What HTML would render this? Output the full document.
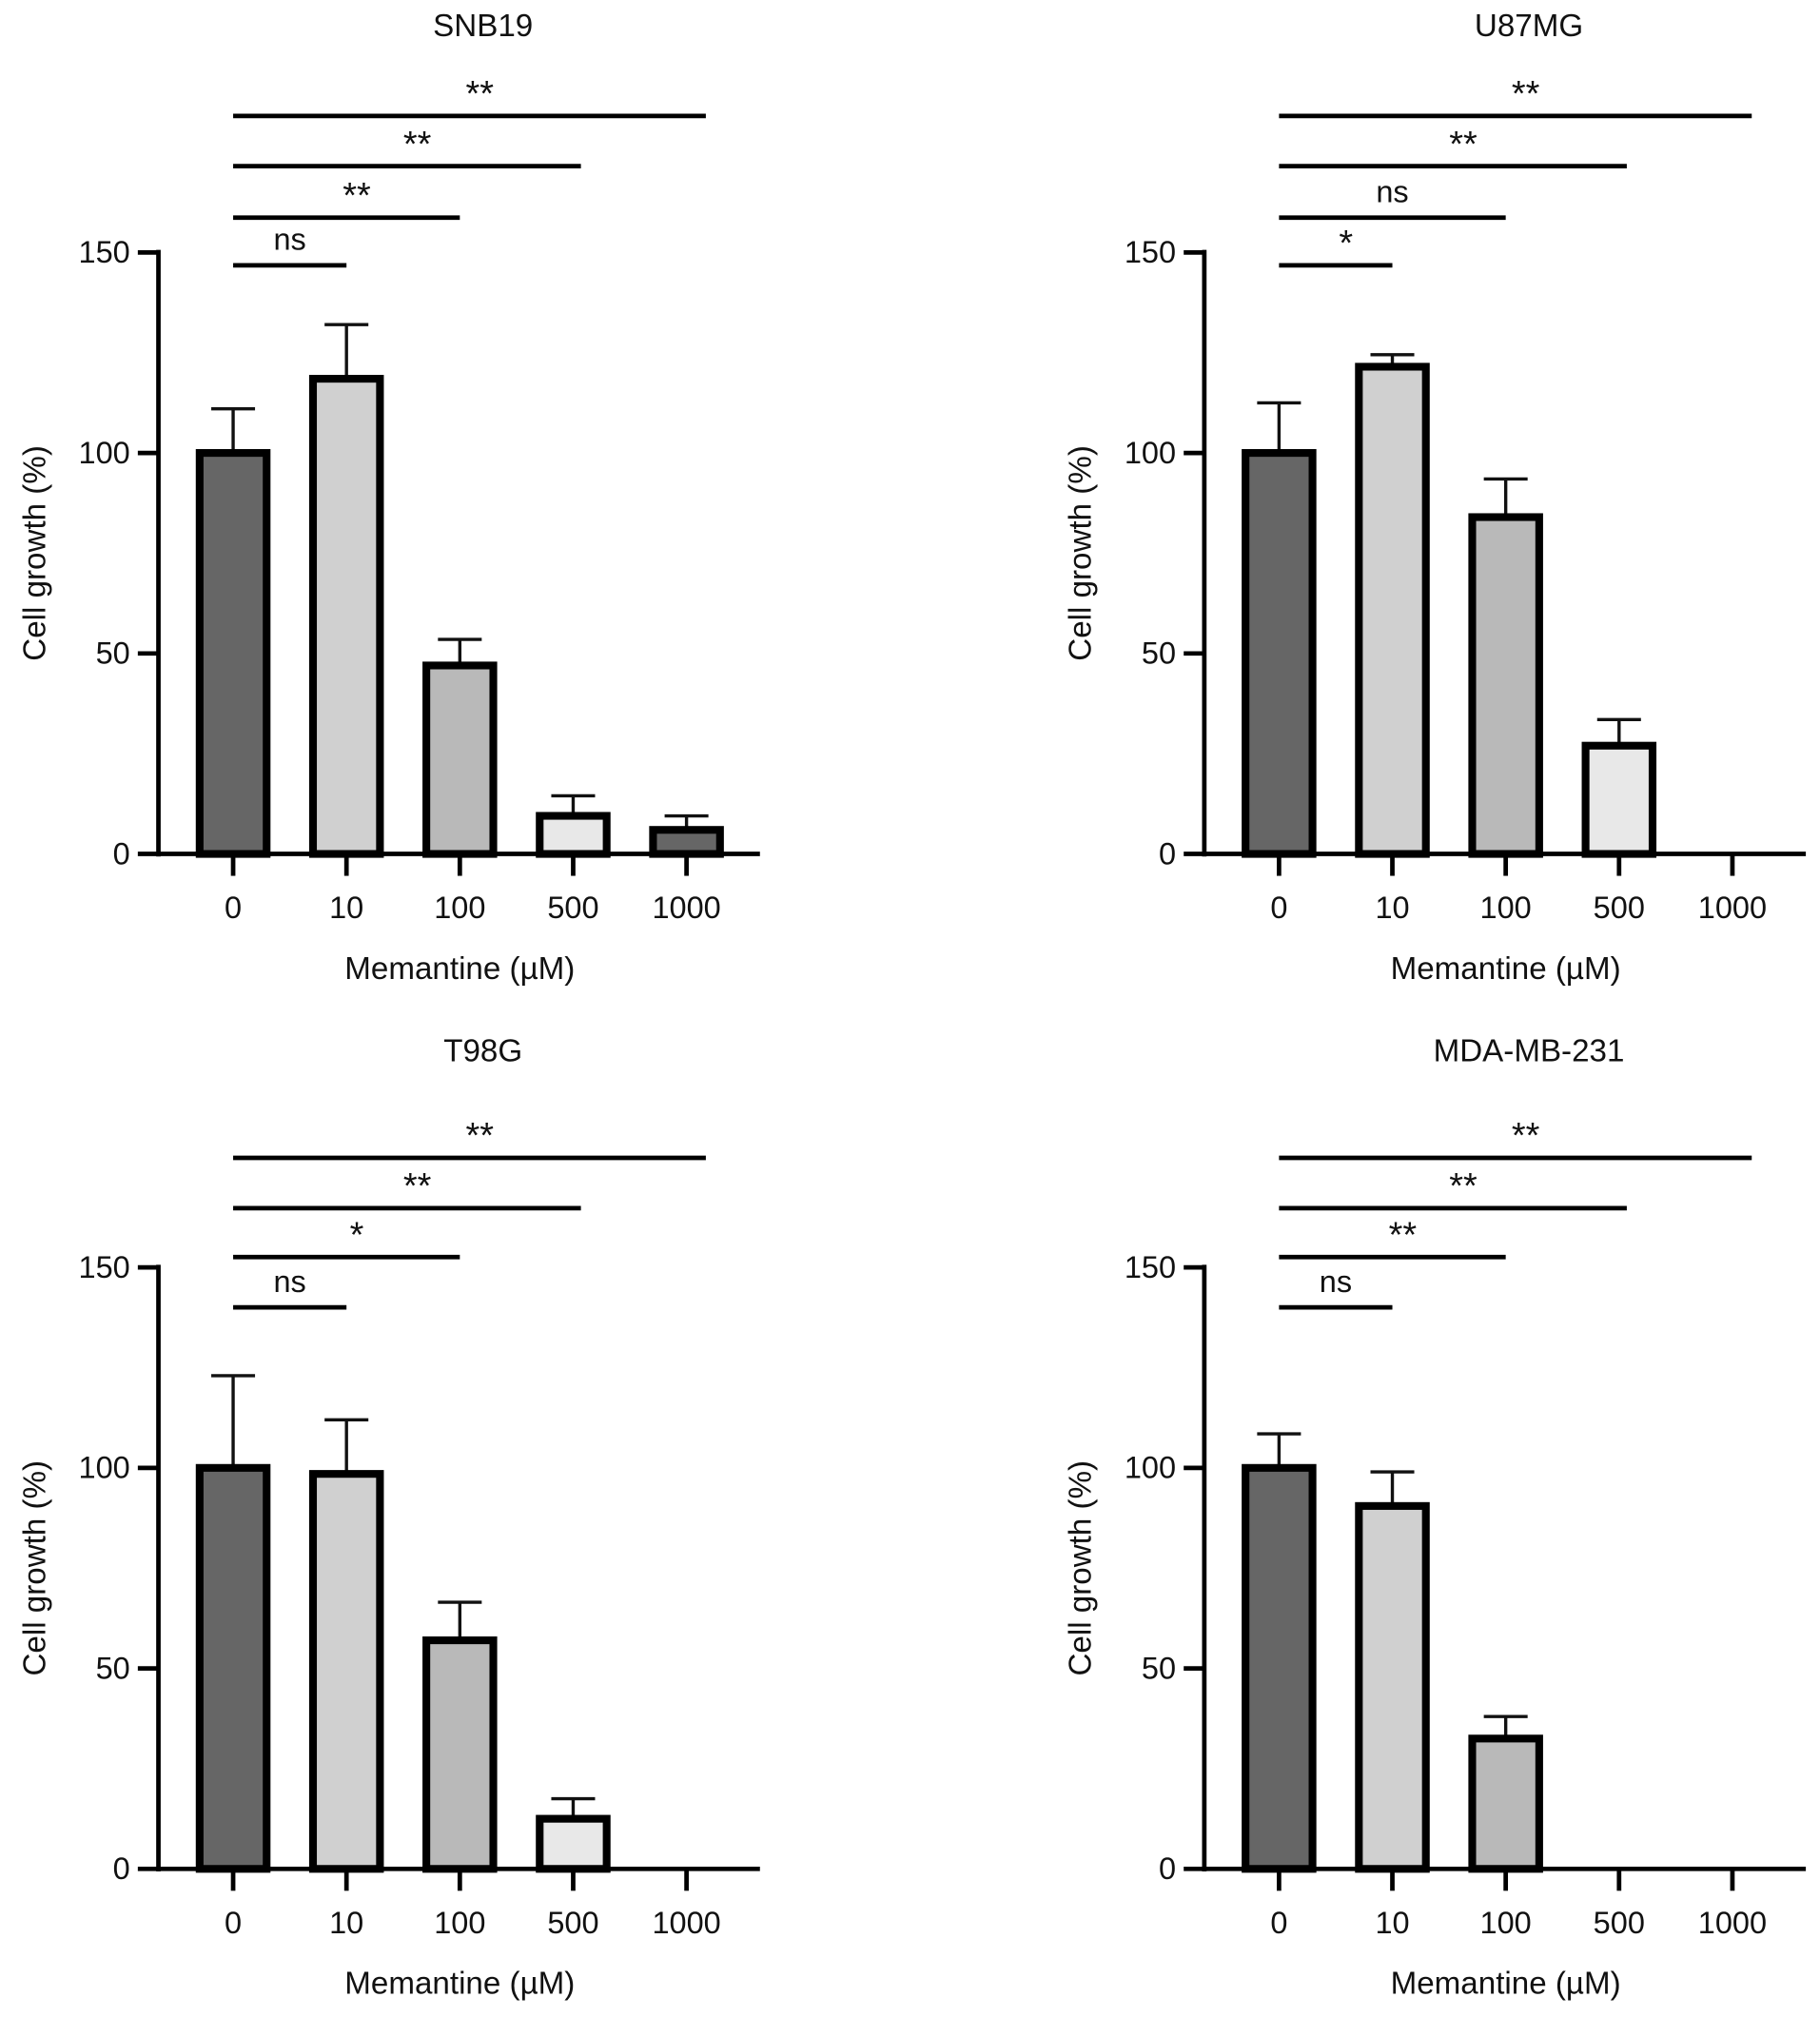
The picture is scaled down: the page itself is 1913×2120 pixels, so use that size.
<!DOCTYPE html>
<html><head><meta charset="utf-8"><style>
html,body{margin:0;padding:0;background:#fff;}
svg{display:block;}
text{font-family:"Liberation Sans",sans-serif;fill:#111;}
</style></head><body>
<svg id="fig" width="1913" height="2120" viewBox="0 0 1413 1566" preserveAspectRatio="none" xmlns="http://www.w3.org/2000/svg"></svg>
<script>
const categories = ["0","10","100","500","1000"];
const yTicks = [0,50,100,150];
const fills = ["#666666","#d0d0d0","#b9b9b9","#e8e8e8","#666666"];
const snb19Values = [100,118.5,47,9.5,6];
const snb19Errors = [11,13.5,6.5,5,3.5];
const u87Values = [100,121.5,84,27,null];
const u87Errors = [12.5,3,9.5,6.5,null];
const t98Values = [100,98.5,57,12.5,null];
const t98Errors = [23,13.5,9.5,5,null];
const mdaValues = [100,90.5,32.5,null,null];
const mdaErrors = [8.5,8.5,5.5,null,null];
const snb19Sig = ["ns","**","**","**"];
const u87Sig = ["*","ns","**","**"];
const t98Sig = ["ns","*","**","**"];
const mdaSig = ["ns","**","**","**"];

const NS="http://www.w3.org/2000/svg";
const svg=document.getElementById('fig');
function mk(tag,attrs,parent,txt){const e=document.createElementNS(NS,tag);for(const k in attrs)e.setAttribute(k,attrs[k]);if(txt!==undefined)e.textContent=txt;(parent||svg).appendChild(e);return e;}

const panels=[
 {name:"snb19",title:"SNB19",vals:snb19Values,errs:snb19Errors,sig:snb19Sig,ox:0,oy:0,sigY:[206,169,129,90]},
 {name:"u87mg",title:"U87MG",vals:u87Values,errs:u87Errors,sig:u87Sig,ox:812,oy:0,sigY:[206,169,129,90]},
 {name:"t98g",title:"T98G",vals:t98Values,errs:t98Errors,sig:t98Sig,ox:0,oy:788,sigY:[1015,976,938,899]},
 {name:"mda-mb-231",title:"MDA-MB-231",vals:mdaValues,errs:mdaErrors,sig:mdaSig,ox:812,oy:788,sigY:[1015,976,938,899]}
];
panels.forEach(p=>{
 const g=mk('g',{});
 
 
 const x0=123+p.ox, y0=663+p.oy, yTop=196+p.oy;
 const ys=v=>y0-(v/150)*(y0-yTop);
 const xs=i=>x0+58+i*88;
 const t=mk('text',{x:x0+252,y:28+p.oy+(p.oy?8:0),'text-anchor':'middle','font-size':24.5},g,p.title);
 
 
 p.vals.forEach((v,i)=>{
  if(v===null)return;
  const e=p.errs[i];
  const el=mk('line',{x1:xs(i),x2:xs(i),y1:ys(v),y2:ys(v+e),stroke:'#111','stroke-width':2.5},g);
  
  
  const cap=mk('line',{x1:xs(i)-17,x2:xs(i)+17,y1:ys(v+e),y2:ys(v+e),stroke:'#111','stroke-width':2.5},g);
  
  
  const r=mk('rect',{x:xs(i)-26,y:ys(v),width:52,height:y0-ys(v),fill:fills[i],stroke:'#000','stroke-width':6},g);
  
  
 });
 const ya=mk('line',{x1:x0,x2:x0,y1:yTop-2,y2:y0+2,stroke:'#000','stroke-width':3.5},g);
 
 
 const xa=mk('line',{x1:x0,x2:x0+467,y1:y0,y2:y0,stroke:'#000','stroke-width':3.5},g);
 
 
 yTicks.forEach(v=>{
  const tk=mk('line',{x1:x0-16,x2:x0,y1:ys(v),y2:ys(v),stroke:'#000','stroke-width':3.5},g);
  
  
  const tl=mk('text',{x:x0-22,y:ys(v)+8,'text-anchor':'end','font-size':24},g,String(v));
  
  
 });
 categories.forEach((c,i)=>{
  const tk=mk('line',{x1:xs(i),x2:xs(i),y1:y0,y2:y0+17,stroke:'#000','stroke-width':3.5},g);
  
  
  const tl=mk('text',{x:xs(i),y:y0+50,'text-anchor':'middle','font-size':24},g,c);
  
  
 });
 const xt=mk('text',{x:x0+234,y:y0+97,'text-anchor':'middle','font-size':24.5},g,'Memantine (\u00b5M)');
 
 
 const yt=mk('text',{x:0,y:0,'text-anchor':'middle','font-size':24.5,transform:`translate(${x0-88},${(yTop+y0)/2}) rotate(-90)`},g,'Cell growth (%)');
 
 
 const ends=[88,176,270,367];
 p.sig.forEach((s,k)=>{
  const y=p.sigY[k];
  const xe=xs(0)+ends[k];
  const ln=mk('line',{x1:xs(0),x2:xe,y1:y,y2:y,stroke:'#000','stroke-width':3.5},g);
  
  
  const cx=(xs(0)+xe)/2+(s==='ns'?0:8);
  const st=mk('text',{x:cx,y:y-(s==='ns'?12:8),'text-anchor':'middle','font-size':s==='ns'?24:28,fill:s==='ns'?'#111':'#555'},g,s);
  
  
 });
});
</script>
</body></html>
